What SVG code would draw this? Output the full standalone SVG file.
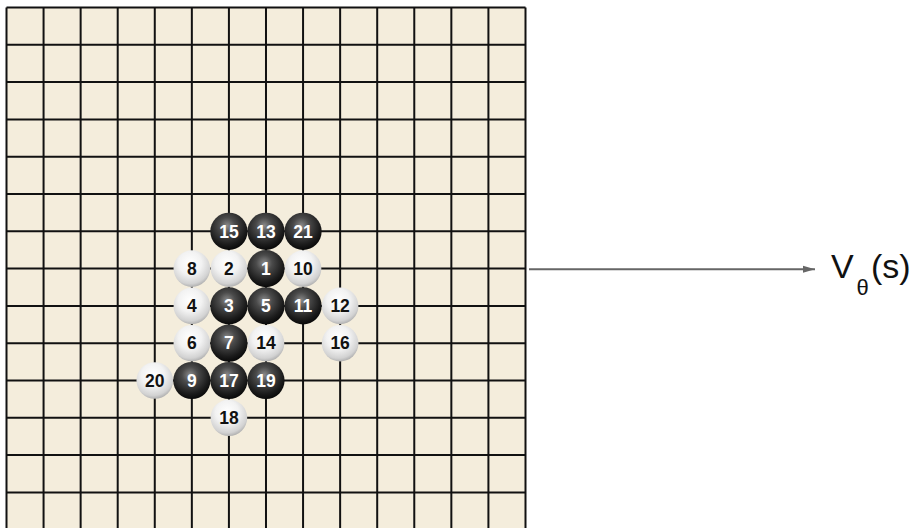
<svg xmlns="http://www.w3.org/2000/svg" width="919" height="528" viewBox="0 0 919 528">
  <defs>
    <radialGradient id="gb" cx="0.45" cy="0.35" r="0.72">
      <stop offset="0" stop-color="#8a8a8a"/>
      <stop offset="0.3" stop-color="#4a4a4a"/>
      <stop offset="0.7" stop-color="#1c1c1c"/>
      <stop offset="1" stop-color="#000"/>
    </radialGradient>
    <radialGradient id="gw" cx="0.45" cy="0.35" r="0.7">
      <stop offset="0" stop-color="#ffffff"/>
      <stop offset="0.45" stop-color="#f2f2f2"/>
      <stop offset="0.8" stop-color="#d2d2d2"/>
      <stop offset="1" stop-color="#a0a0a0"/>
    </radialGradient>
    <marker id="ah" markerWidth="12" markerHeight="8" refX="12" refY="4" orient="auto" markerUnits="userSpaceOnUse">
      <path d="M0,0.5 L12,4 L0,7.5 Z" fill="#666"/>
    </marker>
  </defs>
  <style>
    .grid line { stroke: #111; stroke-width: 2; }
    .b circle { fill: url(#gb); }
    .w circle { fill: url(#gw); }
    .b text, .w text { font-family: "Liberation Sans", Arial, sans-serif; font-weight: bold; font-size: 17.5px; text-anchor: middle; }
    .b text { fill: #fff; }
    .w text { fill: #111; }
    .lbl { font-family: "Liberation Sans", Arial, sans-serif; fill: #111; }
  </style>
  <rect width="919" height="528" fill="#fff"/>
  <g id="board">
    <rect x="6.5" y="7.5" width="519" height="521" fill="#F4EDDC"/>
    <g class="grid">
      <line x1="6.5" y1="7.5" x2="6.5" y2="528"/>
      <line x1="43.57" y1="7.5" x2="43.57" y2="528"/>
      <line x1="80.64" y1="7.5" x2="80.64" y2="528"/>
      <line x1="117.71" y1="7.5" x2="117.71" y2="528"/>
      <line x1="154.78" y1="7.5" x2="154.78" y2="528"/>
      <line x1="191.85" y1="7.5" x2="191.85" y2="528"/>
      <line x1="228.92" y1="7.5" x2="228.92" y2="528"/>
      <line x1="265.99" y1="7.5" x2="265.99" y2="528"/>
      <line x1="303.06" y1="7.5" x2="303.06" y2="528"/>
      <line x1="340.13" y1="7.5" x2="340.13" y2="528"/>
      <line x1="377.2" y1="7.5" x2="377.2" y2="528"/>
      <line x1="414.27" y1="7.5" x2="414.27" y2="528"/>
      <line x1="451.34" y1="7.5" x2="451.34" y2="528"/>
      <line x1="488.41" y1="7.5" x2="488.41" y2="528"/>
      <line x1="525.5" y1="7.5" x2="525.5" y2="528"/>
      <line x1="6.5" y1="7.5" x2="525.5" y2="7.5"/>
      <line x1="6.5" y1="44.8" x2="525.5" y2="44.8"/>
      <line x1="6.5" y1="82.1" x2="525.5" y2="82.1"/>
      <line x1="6.5" y1="119.4" x2="525.5" y2="119.4"/>
      <line x1="6.5" y1="156.7" x2="525.5" y2="156.7"/>
      <line x1="6.5" y1="194" x2="525.5" y2="194"/>
      <line x1="6.5" y1="231.3" x2="525.5" y2="231.3"/>
      <line x1="6.5" y1="268.6" x2="525.5" y2="268.6"/>
      <line x1="6.5" y1="305.9" x2="525.5" y2="305.9"/>
      <line x1="6.5" y1="343.2" x2="525.5" y2="343.2"/>
      <line x1="6.5" y1="380.5" x2="525.5" y2="380.5"/>
      <line x1="6.5" y1="417.8" x2="525.5" y2="417.8"/>
      <line x1="6.5" y1="455.1" x2="525.5" y2="455.1"/>
      <line x1="6.5" y1="492.4" x2="525.5" y2="492.4"/>
    </g>
  </g>
  <g id="s15" class="b"><circle cx="228.92" cy="231.3" r="18.6"/><text x="228.92" y="237.5">15</text></g>
  <g id="s13" class="b"><circle cx="265.99" cy="231.3" r="18.6"/><text x="265.99" y="237.5">13</text></g>
  <g id="s21" class="b"><circle cx="303.06" cy="231.3" r="18.6"/><text x="303.06" y="237.5">21</text></g>
  <g id="s8" class="w"><circle cx="191.85" cy="268.6" r="18.3"/><text x="191.85" y="274.8">8</text></g>
  <g id="s2" class="w"><circle cx="228.92" cy="268.6" r="18.3"/><text x="228.92" y="274.8">2</text></g>
  <g id="s1" class="b"><circle cx="265.99" cy="268.6" r="18.6"/><text x="265.99" y="274.8">1</text></g>
  <g id="s10" class="w"><circle cx="303.06" cy="268.6" r="18.3"/><text x="303.06" y="274.8">10</text></g>
  <g id="s4" class="w"><circle cx="191.85" cy="305.9" r="18.3"/><text x="191.85" y="312.1">4</text></g>
  <g id="s3" class="b"><circle cx="228.92" cy="305.9" r="18.6"/><text x="228.92" y="312.1">3</text></g>
  <g id="s5" class="b"><circle cx="265.99" cy="305.9" r="18.6"/><text x="265.99" y="312.1">5</text></g>
  <g id="s11" class="b"><circle cx="303.06" cy="305.9" r="18.6"/><text x="303.06" y="312.1">11</text></g>
  <g id="s12" class="w"><circle cx="340.13" cy="305.9" r="18.3"/><text x="340.13" y="312.1">12</text></g>
  <g id="s6" class="w"><circle cx="191.85" cy="343.2" r="18.3"/><text x="191.85" y="349.4">6</text></g>
  <g id="s7" class="b"><circle cx="228.92" cy="343.2" r="18.6"/><text x="228.92" y="349.4">7</text></g>
  <g id="s14" class="w"><circle cx="265.99" cy="343.2" r="18.3"/><text x="265.99" y="349.4">14</text></g>
  <g id="s16" class="w"><circle cx="340.13" cy="343.2" r="18.3"/><text x="340.13" y="349.4">16</text></g>
  <g id="s20" class="w"><circle cx="154.78" cy="380.5" r="18.3"/><text x="154.78" y="386.7">20</text></g>
  <g id="s9" class="b"><circle cx="191.85" cy="380.5" r="18.6"/><text x="191.85" y="386.7">9</text></g>
  <g id="s17" class="b"><circle cx="228.92" cy="380.5" r="18.6"/><text x="228.92" y="386.7">17</text></g>
  <g id="s19" class="b"><circle cx="265.99" cy="380.5" r="18.6"/><text x="265.99" y="386.7">19</text></g>
  <g id="s18" class="w"><circle cx="228.92" cy="417.8" r="18.3"/><text x="228.92" y="424">18</text></g>
  <g id="connectors">
    <line x1="529" y1="269.2" x2="815" y2="269.2" stroke="#666" stroke-width="2" marker-end="url(#ah)"/>
  </g>
  <g id="value">
    <text class="lbl" x="831" y="277.5" font-size="34">V<tspan x="856.5" y="295" font-size="22">θ</tspan><tspan x="871" y="277.5">(s)</tspan></text>
  </g>
</svg>
